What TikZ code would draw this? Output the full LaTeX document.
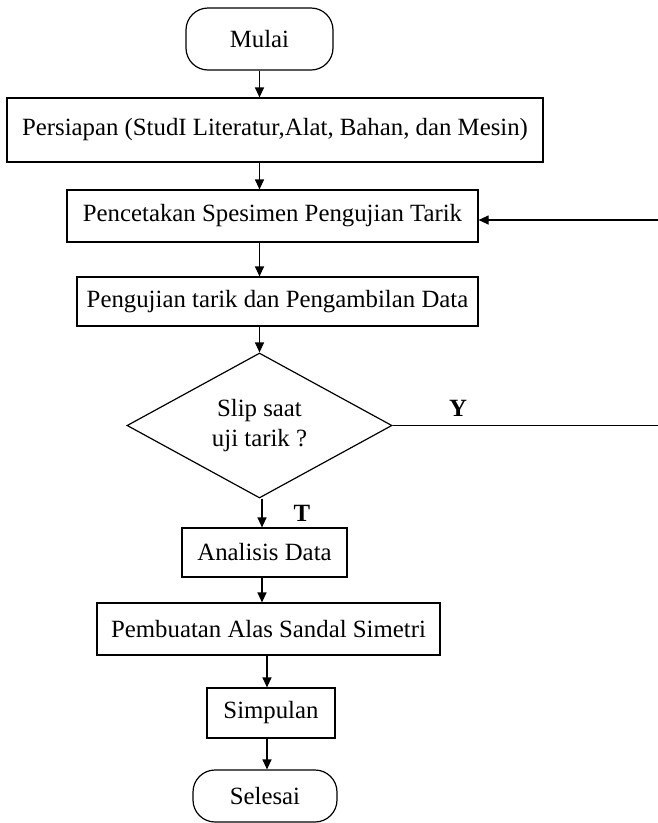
\documentclass[tikz,border=0pt]{standalone}
\usepackage{fontspec}
\setmainfont{Liberation Serif}
\usetikzlibrary{arrows.meta,shapes.geometric}
\begin{document}
\begin{tikzpicture}[x=1pt,y=-1pt,
  line width=1.2pt,
  font=\fontsize{24.8}{30}\selectfont,
  box/.style={draw, rectangle, inner sep=0pt, align=center},
  term/.style={draw, rectangle, rounded corners=22pt, inner sep=0pt},
  dec/.style={draw, diamond, shape aspect=1.8, inner sep=0pt, align=center},
  arr/.style={-{Triangle[length=10pt,width=9pt]}},
  lbl/.style={font=\fontsize{24.8}{30}\selectfont\bfseries}]
\useasboundingbox (0,0) rectangle (657,823);
\fill[white] (0,0) rectangle (657,823);

\node[term, minimum width=147pt, minimum height=62pt] (mulai) at (259.5,39) {Mulai};
\node[box, minimum width=536pt, minimum height=64pt] (persiapan) at (275,130) {Persiapan (StudI Literatur,Alat, Bahan, dan Mesin)};
\node[box, minimum width=411pt, minimum height=52pt] (cetak) at (272.5,216) {Pencetakan Spesimen Pengujian Tarik};
\node[box, minimum width=401pt, minimum height=49pt] (uji) at (277.5,301.5) {Pengujian tarik dan Pengambilan Data};
\node[dec, minimum width=265pt, minimum height=145pt] (slip) at (259.5,425.5) {Slip saat\\uji tarik ?};
\node[box, minimum width=165pt, minimum height=49pt] (analisis) at (264.5,552.5) {Analisis Data};
\node[box, minimum width=343pt, minimum height=52pt] (buat) at (268.5,629) {Pembuatan Alas Sandal Simetri};
\node[box, minimum width=128pt, minimum height=50pt] (simpulan) at (271,713) {Simpulan};
\node[term, minimum width=144pt, minimum height=52pt] (selesai) at (265,796) {Selesai};

\node[lbl] (y) at (458,408) {Y};
\node[lbl] (t) at (302,513) {T};

\coordinate (c1) at (259.5,0);
\coordinate (c2) at (262,0);
\coordinate (c3) at (267,0);
\coordinate (r1) at (662,425.5);
\coordinate (r2) at (662,220);

\draw[arr] (mulai.south) -- (c1 |- persiapan.north);
\draw[arr] (c1 |- persiapan.south) -- (c1 |- cetak.north);
\draw[arr] (c1 |- cetak.south) -- (c1 |- uji.north);
\draw[arr] (c1 |- uji.south) -- (slip.north);
\draw[arr] (c2 |- slip.south) -- (c2 |- analisis.north);
\draw[arr] (c2 |- analisis.south) -- (c2 |- buat.north);
\draw[arr] (c3 |- buat.south) -- (c3 |- simpulan.north);
\draw[arr] (c3 |- simpulan.south) -- (c3 |- selesai.north);
\draw[arr] (slip.east) -- (r1) -- (r2) -- (r2 -| cetak.east);
\end{tikzpicture}
\end{document}
